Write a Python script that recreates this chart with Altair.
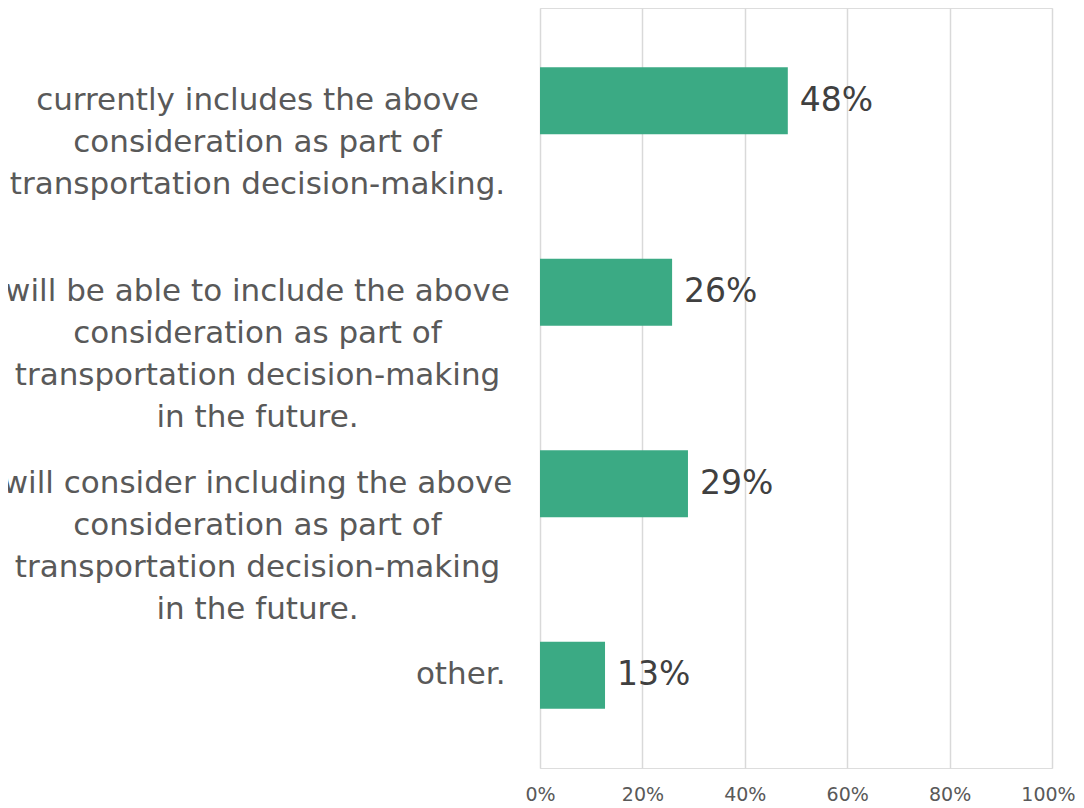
import altair as alt
import pandas as pd

categories = [
    "currently includes the above|consideration as part of|transportation decision-making.",
    "will be able to include the above|consideration as part of|transportation decision-making|in the future.",
    "will consider including the above|consideration as part of|transportation decision-making|in the future.",
    "other.",
]
values = [0.484, 0.258, 0.289, 0.127]

df = pd.DataFrame({"cat": categories, "val": values})

FONT = "DejaVu Sans"

base = alt.Chart(df).encode(
    y=alt.Y(
        "cat:N",
        sort=categories,
        scale=alt.Scale(paddingInner=0.65, paddingOuter=0.31),
        axis=alt.Axis(
            title=None,
            domain=False,
            ticks=False,
            tickSize=0,
            grid=False,
            labelExpr="split(datum.label, '|')",
            labelFont=FONT,
            labelFontSize=31,
            labelColor="#595959",
            labelLineHeight=42,
            labelLimit=0,
            labelAlign={"condition": {"test": "datum.value == 'other.'", "value": "right"}, "value": "center"},
            labelPadding={"condition": {"test": "datum.value == 'other.'", "value": 35}, "value": 283},
        ),
    ),
)

bars = base.mark_bar(color="#3BAA84").encode(
    x=alt.X(
        "val:Q",
        scale=alt.Scale(domain=[0, 1]),
        axis=alt.Axis(
            title=None,
            format=".0%",
            values=[0, 0.2, 0.4, 0.6, 0.8, 1.0],
            domain=False,
            ticks=False,
            tickSize=0,
            grid=True,
            gridColor="#D9D9D9",
            gridWidth=1.5,
            labelFlush=False,
            labelFont=FONT,
            labelFontSize=19,
            labelColor="#595959",
            labelPadding=17,
            labelOffset={"condition": {"test": "datum.value == 1", "value": -4}, "value": 0},
        ),
    )
)

text = base.mark_text(
    align="left", baseline="middle", dx=12, font=FONT, fontSize=33, color="#404040"
).encode(x="val:Q", text=alt.Text("val:Q", format=".0%"))

chart = (
    alt.layer(bars, text)
    .properties(
        width=512,
        height=760,
        autosize=alt.AutoSizeParams(type="none"),
        padding={"left": 532, "top": 0, "right": 24, "bottom": 40},
    )
    .configure_view(stroke=None)
    .configure(background="white")
)

chart.save("out.html", embed_options={"renderer": "svg", "actions": False})
